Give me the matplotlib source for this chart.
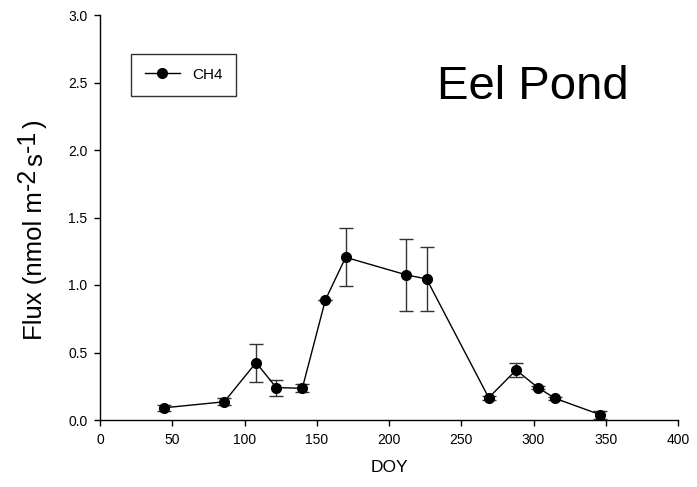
import matplotlib
matplotlib.use("Agg")
import matplotlib.pyplot as plt

plt.rcParams['font.family'] = ['Liberation Sans', 'DejaVu Sans']

doy = [44, 86, 108, 122, 140, 156, 170, 212, 226, 269, 288, 303, 315, 346]
flux = [0.09, 0.135, 0.425, 0.24, 0.235, 0.89, 1.205, 1.075, 1.045, 0.165, 0.37, 0.24, 0.16, 0.04]
err = [0.02, 0.025, 0.14, 0.06, 0.03, 0.0, 0.215, 0.265, 0.24, 0.015, 0.05, 0.01, 0.01, 0.03]
xticks = [0, 50, 100, 150, 200, 250, 300, 350, 400]
yticks = [0.0, 0.5, 1.0, 1.5, 2.0, 2.5, 3.0]
ylabel_parts = [("Flux (nmol m", False), ("-2", True), ("s", False), ("-1", True), (")", False)]

W, H = 697, 487
fig = plt.figure(figsize=(W / 100, H / 100), dpi=100)
ax = fig.add_axes([100/W, 67/H, 578/W, 405/H])

ax.errorbar(doy, flux, yerr=err, fmt='none', ecolor='#333333', elinewidth=1.0,
            capsize=5, capthick=1.0, zorder=2)
ax.plot(doy, flux, color='black', lw=1.0, marker='o', markersize=7,
        markerfacecolor='black', markeredgecolor='black', label='CH4', zorder=3)

ax.set_xlim(0, 400)
ax.set_ylim(0, 3.0)
ax.set_xticks(xticks)
ax.set_yticks(yticks)
ax.set_yticklabels([f"{v:.1f}" for v in yticks])
ax.tick_params(direction='out', length=4, width=1, labelsize=10, pad=5)
for s in ['top', 'right']:
    ax.spines[s].set_visible(False)
for s in ['left', 'bottom']:
    ax.spines[s].set_linewidth(1.0)

ax.set_xlabel('DOY', fontsize=12.5, labelpad=10)

# y label built from pieces so superscripts are near full size
renderer = fig.canvas.get_renderer()
base_x = 42.0   # pixel x of baseline (rotated text)
cur_y = 340.0   # pixel y (from top) where text starts
for txt, sup in ylabel_parts:
    fs = 18 if sup else 18.5
    xpix = base_x - (7 if sup else 0)
    t = fig.text(xpix / W, 1 - cur_y / H, txt, rotation=90, rotation_mode='anchor',
                 ha='left', va='baseline', fontsize=fs)
    bb = t.get_window_extent(renderer)
    cur_y -= bb.height + 1.5

ax.text(233, 2.38, 'Eel Pond', fontsize=34, va='baseline', ha='left')

leg = ax.legend(loc='upper left', bbox_to_anchor=(31/578, 1 - 39/405), frameon=True,
                fancybox=False, edgecolor='black', fontsize=11, handlelength=2.3,
                borderpad=0.9, borderaxespad=0, handletextpad=0.8)
leg.get_frame().set_linewidth(1.0)

fig.savefig('out.png', dpi=100)
